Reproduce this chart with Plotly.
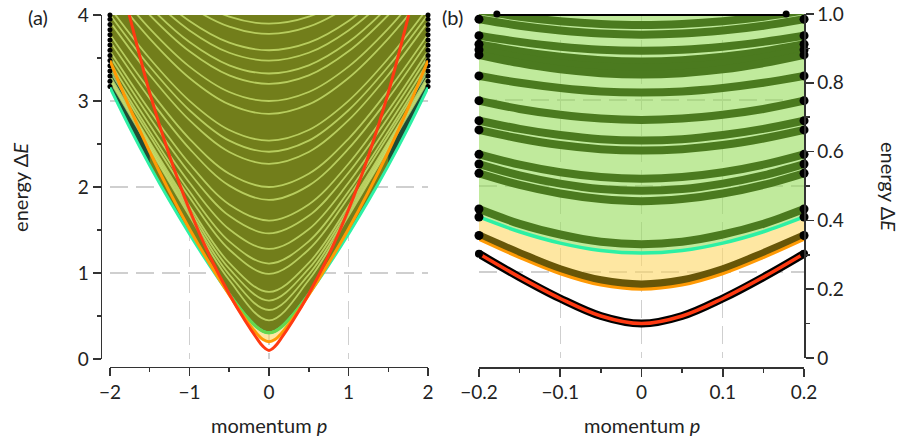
import plotly.graph_objects as go

# ---------------- Panel (a): full spectrum, momentum -2..2 ----------------
P_A_HALF = [0, 0.075, 0.15, 0.3, 0.5, 0.75, 1.0, 1.25, 1.5, 1.75, 2.0]
RED_A_HALF = [0.10, 0.146, 0.236, 0.445, 0.757, 1.205, 1.735, 2.361, 3.094, 3.975, 4.90]
ORANGE_A_HALF = [0.20, 0.226, 0.292, 0.471, 0.745, 1.115, 1.513, 1.943, 2.41, 2.917, 3.47]
CYAN_A_HALF = [0.305, 0.322, 0.367, 0.512, 0.755, 1.092, 1.454, 1.839, 2.249, 2.688, 3.158]
TOP_A = 4.0

# light band lines inside the continuum, values at p = 0, 0.5, 1, 1.5, 2
ARC_P_HALF = [0, 0.5, 1.0, 1.5, 2.0]
ARCS_A = [
    [0.45, 0.918, 1.662, 2.442, 3.231],
    [0.57, 0.982, 1.699, 2.467, 3.250],
    [0.68, 1.050, 1.739, 2.494, 3.271],
    [0.78, 1.117, 1.780, 2.524, 3.294],
    [0.99, 1.273, 1.882, 2.596, 3.350],
    [1.11, 1.368, 1.947, 2.644, 3.387],
    [1.28, 1.509, 2.049, 2.720, 3.447],
    [1.46, 1.665, 2.166, 2.809, 3.517],
    [1.61, 1.798, 2.270, 2.890, 3.582],
    [1.85, 2.016, 2.446, 3.030, 3.696],
    [2.00, 2.154, 2.561, 3.124, 3.774],
    [2.27, 2.407, 2.777, 3.303, 3.923],
    [2.41, 2.539, 2.893, 3.401, 4.006],
    [2.54, 2.663, 3.002, 3.494, 4.086],
    [2.85, 2.960, 3.268, 3.726, 4.285],
    [3.00, 3.105, 3.400, 3.842, 4.386],
    [3.20, 3.298, 3.578, 4.000, 4.525],
    [3.32, 3.415, 3.685, 4.097, 4.611],
    [3.47, 3.561, 3.821, 4.219, 4.730],
    [3.59, 3.678, 3.930, 4.318, 4.820],
    [3.78, 3.864, 4.105, 4.480, 4.940],
    [3.90, 3.981, 4.215, 4.600, 5.050],
]
EDGE_P_A = 2.0
EDGE_DOTS_A = [3.17, 3.23, 3.29, 3.35, 3.41, 3.47, 3.53, 3.59, 3.65, 3.71, 3.77, 3.83, 3.89, 3.95, 4.0]

X_TICKS_A = [-2, -1, 0, 1, 2]
Y_TICKS_A = [0, 1, 2, 3, 4]
Y_GRID_A = [1, 2, 3]

# ---------------- Panel (b): zoom, momentum -0.2..0.2 ----------------
P_B_HALF = [0, 0.05, 0.1, 0.15, 0.2]
RED_B_HALF = [0.10, 0.122, 0.173, 0.235, 0.303]
ORANGE_B_HALF = [0.20, 0.212, 0.245, 0.292, 0.345]
CYAN_B_HALF = [0.305, 0.3125, 0.334, 0.367, 0.41]
BROWN_B_HALF = [0.214, 0.226, 0.258, 0.305, 0.356]
BANDS_B = [
    [0.968, 0.971, 0.979, 0.992, 1.010],
    [0.940, 0.943, 0.952, 0.966, 0.985],
    [0.893, 0.896, 0.905, 0.919, 0.937],
    [0.862, 0.8655, 0.8755, 0.891, 0.912],
    [0.843, 0.847, 0.857, 0.874, 0.896],
    [0.824, 0.828, 0.839, 0.857, 0.881],
    [0.772, 0.775, 0.785, 0.800, 0.820],
    [0.692, 0.696, 0.707, 0.724, 0.748],
    [0.632, 0.636, 0.648, 0.666, 0.690],
    [0.603, 0.607, 0.619, 0.638, 0.663],
    [0.521, 0.526, 0.540, 0.562, 0.592],
    [0.486, 0.491, 0.507, 0.531, 0.564],
    [0.456, 0.462, 0.478, 0.503, 0.537],
    [0.331, 0.338, 0.359, 0.390, 0.433],
]
TOP_B = 1.0
BAND_EXIT_P = 0.178   # where the highest band leaves the frame at the top

X_TICKS_B = [-0.2, -0.1, 0, 0.1, 0.2]
Y_TICKS_B = [0, 0.2, 0.4, 0.6, 0.8, 1.0]
Y_TICKTEXT_B = ["0", "0.2", "0.4", "0.6", "0.8", "1.0"]
Y_MINOR_B = [0.1, 0.3, 0.5, 0.7, 0.9]
Y_GRID_B = [0.25, 0.5, 0.75]

# ---------------- colours ----------------
OLIVE = "#727e1b"
ARC_LIGHT = "rgba(210,236,120,0.72)"
TEAL_DARK = "#1e4b36"
CYAN = "#2cf0a4"
GREEN_SEG = "#66d64c"
ORANGE = "#ff9a05"
RED = "#ff3a12"
LIGHTGREEN = "rgba(150,220,90,0.6)"
YELLOW = "rgba(253,215,100,0.6)"
DARKGREEN = "#4b7a1f"
BROWN = "#685608"
FONT = "Lato"
AXC = "#333333"
GRIDC = "#cfcfcf"


def mirror(hx, hy):
    xs = [-v for v in hx[:0:-1]] + list(hx)
    ys = list(hy[:0:-1]) + list(hy)
    return xs, ys


def curve(x, y, color, width, xa, ya, fill=None, fillcolor=None):
    return go.Scatter(
        x=x, y=y, mode="lines", xaxis=xa, yaxis=ya,
        line=dict(color=color, width=width, shape="spline"),
        fill=fill, fillcolor=fillcolor, hoverinfo="skip", showlegend=False,
    )


fig = go.Figure()

# ---- panel (a) ----
xa, red_a = mirror(P_A_HALF, RED_A_HALF)
_, orange_a = mirror(P_A_HALF, ORANGE_A_HALF)
_, cyan_a = mirror(P_A_HALF, CYAN_A_HALF)
top_a = [TOP_A] * len(xa)

fig.add_trace(curve(xa, orange_a, "rgba(0,0,0,0)", 0, "x", "y"))
fig.add_trace(curve(xa, cyan_a, "rgba(0,0,0,0)", 0, "x", "y", "tonexty", YELLOW))
fig.add_trace(curve(xa, cyan_a, "rgba(0,0,0,0)", 0, "x", "y"))
fig.add_trace(curve(xa, top_a, "rgba(0,0,0,0)", 0, "x", "y", "tonexty", OLIVE))

# dark region between the two lowest branches near the edges
for sgn in (1, -1):
    px = [sgn * v for v in P_A_HALF[8:]]
    fig.add_trace(curve(px, CYAN_A_HALF[8:], "rgba(0,0,0,0)", 0, "x", "y"))
    fig.add_trace(curve(px, ORANGE_A_HALF[8:], "rgba(0,0,0,0)", 0, "x", "y", "tonexty", TEAL_DARK))

for arc in ARCS_A:
    ax_, ay_ = mirror(ARC_P_HALF, arc)
    fig.add_trace(curve(ax_, ay_, ARC_LIGHT, 1.8, "x", "y"))

fig.add_trace(go.Scatter(
    x=[-EDGE_P_A] * len(EDGE_DOTS_A) + [EDGE_P_A] * len(EDGE_DOTS_A),
    y=EDGE_DOTS_A + EDGE_DOTS_A, mode="markers", xaxis="x", yaxis="y",
    marker=dict(color="black", size=5), cliponaxis=False,
    hoverinfo="skip", showlegend=False))

fig.add_trace(curve(xa, cyan_a, CYAN, 3, "x", "y"))
gx, gy = mirror(P_A_HALF[:5], CYAN_A_HALF[:5])
fig.add_trace(curve(gx, gy, GREEN_SEG, 3, "x", "y"))
fig.add_trace(curve(xa, orange_a, ORANGE, 3, "x", "y"))
fig.add_trace(curve(xa, red_a, RED, 3, "x", "y"))

# ---- panel (b) ----
xb, red_b = mirror(P_B_HALF, RED_B_HALF)
_, orange_b = mirror(P_B_HALF, ORANGE_B_HALF)
_, cyan_b = mirror(P_B_HALF, CYAN_B_HALF)
_, brown_b = mirror(P_B_HALF, BROWN_B_HALF)
top_b = [TOP_B] * len(xb)

fig.add_trace(curve(xb, cyan_b, "rgba(0,0,0,0)", 0, "x2", "y2"))
fig.add_trace(curve(xb, top_b, "rgba(0,0,0,0)", 0, "x2", "y2", "tonexty", LIGHTGREEN))
fig.add_trace(curve(xb, orange_b, "rgba(0,0,0,0)", 0, "x2", "y2"))
fig.add_trace(curve(xb, cyan_b, "rgba(0,0,0,0)", 0, "x2", "y2", "tonexty", YELLOW))

for band in BANDS_B:
    bx, by = mirror(P_B_HALF, band)
    fig.add_trace(curve(bx, by, DARKGREEN, 8, "x2", "y2"))
fig.add_trace(curve(xb, brown_b, BROWN, 8, "x2", "y2"))

# top band tip leaving the frame
fig.add_trace(go.Scatter(
    x=[-BAND_EXIT_P, BAND_EXIT_P], y=[TOP_B, TOP_B], mode="lines+markers",
    xaxis="x2", yaxis="y2", line=dict(color="black", width=4),
    marker=dict(color="black", size=7), cliponaxis=False,
    hoverinfo="skip", showlegend=False))

fig.add_trace(curve(xb, cyan_b, CYAN, 3.5, "x2", "y2"))
fig.add_trace(curve(xb, orange_b, ORANGE, 3, "x2", "y2"))
fig.add_trace(curve(xb, red_b, "black", 8, "x2", "y2"))
fig.add_trace(curve(xb, red_b, RED, 3.5, "x2", "y2"))

edge_vals = [b[-1] for b in BANDS_B if b[-1] <= TOP_B] + [CYAN_B_HALF[-1], BROWN_B_HALF[-1]]
pe = P_B_HALF[-1]
fig.add_trace(go.Scatter(
    x=[-pe] * len(edge_vals) + [pe] * len(edge_vals), y=edge_vals + edge_vals,
    mode="markers", xaxis="x2", yaxis="y2",
    marker=dict(color="black", size=9), cliponaxis=False,
    hoverinfo="skip", showlegend=False))
fig.add_trace(go.Scatter(
    x=[-pe, pe], y=[RED_B_HALF[-1], RED_B_HALF[-1]], mode="markers",
    xaxis="x2", yaxis="y2", marker=dict(color="black", size=8), cliponaxis=False,
    hoverinfo="skip", showlegend=False))

# empty traces so the grid-only overlay axes get drawn
fig.add_trace(go.Scatter(x=[], y=[], xaxis="x", yaxis="y3", showlegend=False, hoverinfo="skip"))
fig.add_trace(go.Scatter(x=[], y=[], xaxis="x2", yaxis="y4", showlegend=False, hoverinfo="skip"))

# ---------------- layout ----------------
tickfont = dict(family=FONT, size=19, color="#222222")
common_x = dict(
    showline=True, linecolor=AXC, linewidth=1.5, ticks="outside", ticklen=8,
    tickwidth=1.5, tickcolor=AXC, showgrid=True, gridcolor=GRIDC, gridwidth=1.3,
    griddash="18px,8px", zeroline=False, tickfont=tickfont, anchor="free",
    automargin=False,
)
common_y = dict(
    showline=True, linecolor=AXC, linewidth=1.5, ticks="outside", ticklen=8,
    tickwidth=1.5, tickcolor=AXC, showgrid=False, zeroline=False, tickfont=tickfont,
    automargin=False,
)
grid_y = dict(showgrid=True, gridcolor=GRIDC, gridwidth=1.3, griddash="18px,8px",
              showticklabels=False, ticks="", showline=False, zeroline=False,
              automargin=False)

fig.update_layout(
    width=908, height=444, margin=dict(l=0, r=0, t=0, b=0, autoexpand=False),
    paper_bgcolor="white", plot_bgcolor="white", hovermode=False,
    showlegend=False,
    xaxis=dict(common_x, domain=[0.1211, 0.4714], range=[-2, 2], position=0.1741,
               tickmode="array", tickvals=X_TICKS_A,
               minor=dict(ticks="outside", ticklen=4, tickwidth=1.5, tickcolor=AXC,
                          tickvals=[-1.5, -0.5, 0.5, 1.5], showgrid=False)),
    yaxis=dict(common_y, domain=[0.1914, 0.9662], range=[0, 4], anchor="free",
               position=0.1109, tickmode="array", tickvals=Y_TICKS_A,
               minor=dict(ticks="outside", ticklen=4, tickwidth=1.5, tickcolor=AXC,
                          tickvals=[0.5, 1.5, 2.5, 3.5], showgrid=False)),
    yaxis3=dict(grid_y, overlaying="y", range=[0, 4], anchor="x",
                tickmode="array", tickvals=Y_GRID_A),
    xaxis2=dict(common_x, domain=[0.5275, 0.8855], range=[-0.2, 0.2], position=0.1734,
                tickmode="array", tickvals=X_TICKS_B,
                minor=dict(ticks="outside", ticklen=4, tickwidth=1.5, tickcolor=AXC,
                           tickvals=[-0.15, -0.05, 0.05, 0.15], showgrid=False)),
    yaxis2=dict(common_y, domain=[0.1937, 0.9685], range=[0, 1], anchor="x2",
                side="right", tickmode="array", tickvals=Y_TICKS_B, ticktext=Y_TICKTEXT_B,
                minor=dict(ticks="outside", ticklen=4, tickwidth=1.5, tickcolor=AXC,
                           tickvals=Y_MINOR_B, showgrid=False)),
    yaxis4=dict(grid_y, overlaying="y2", range=[0, 1], anchor="x2", side="right",
                tickmode="array", tickvals=Y_GRID_B),
)

tfont = dict(family=FONT, size=20, color="#222222")
ann = [
    dict(text="energy Δ<i>E</i>", x=0.022, y=0.579, textangle=-90),
    dict(text="energy Δ<i>E</i>", x=0.979, y=0.579, textangle=90),
    dict(text="momentum <i>p</i>", x=0.2963, y=0.043, textangle=0),
    dict(text="momentum <i>p</i>", x=0.7065, y=0.043, textangle=0),
    dict(text="(a)", x=0.042, y=0.962, textangle=0),
    dict(text="(b)", x=0.498, y=0.962, textangle=0),
]
for a in ann:
    fig.add_annotation(xref="paper", yref="paper", showarrow=False,
                       xanchor="center", yanchor="middle", font=tfont, **a)

fig.write_html(
    "out.html",
    config={"displayModeBar": False, "staticPlot": True},
    post_script="document.body.style.margin='0';document.body.style.overflow='hidden';",
)
